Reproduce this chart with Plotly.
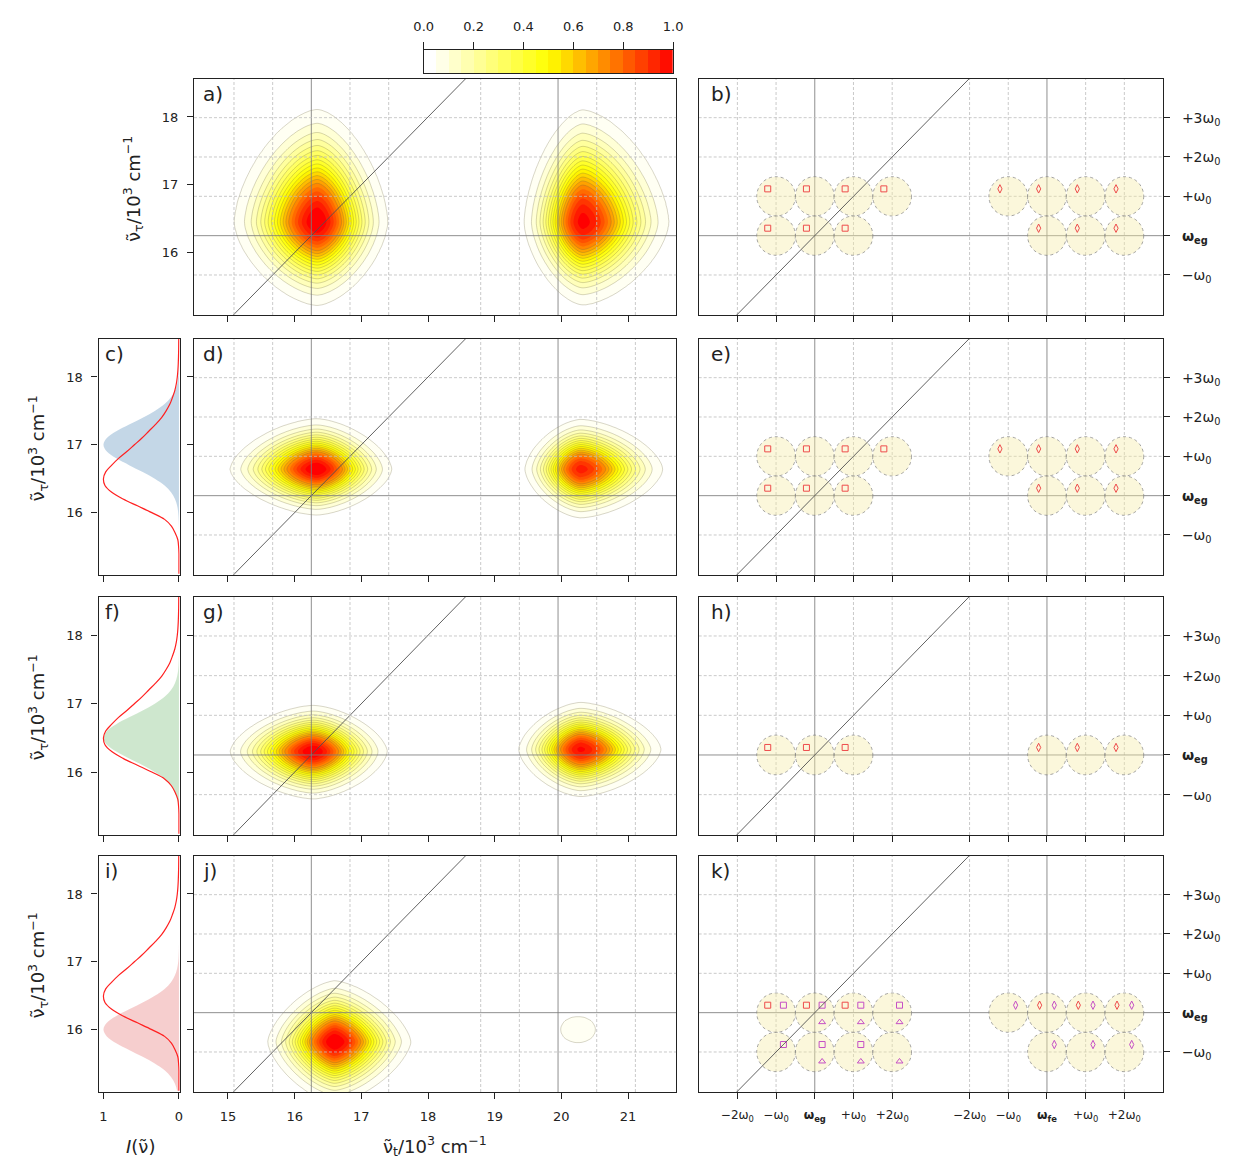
import numpy as np
import plotly.graph_objects as go

# ---------------- data (units: 10^3 cm^-1) ----------------
W_EG = 16.25          # omega_eg
W_FE = 19.95          # omega_fe in the 2D maps
W_FE_SCHEME = 19.73   # omega_fe position in the schematic panels
W0 = 0.58             # vibrational quantum omega_0

MAP_X_RANGE = [14.49, 21.72]
MAP_Y_RANGE = [15.08, 18.56]
SCHEME_X_RANGE = [14.51, 21.47]
MAP_X_TICKS = [15, 16, 17, 18, 19, 20, 21]
MAP_Y_TICKS = [16, 17, 18]

# 2D peaks: x0, y0, amplitude, wx_left, wx_right, wy_down, wy_up, contour-shape exponent
peaks_a = [[16.34, 16.45, 1.00, 0.72, 0.61, 0.71, 0.96, 1.6],
           [20.32, 16.45, 0.97, 0.51, 0.75, 0.71, 0.96, 1.6]]
peaks_d = [[16.33, 16.64, 1.00, 0.75, 0.65, 0.39, 0.43, 1.6],
           [20.29, 16.64, 0.92, 0.49, 0.72, 0.42, 0.43, 1.6]]
peaks_g = [[16.28, 16.30, 1.00, 0.72, 0.64, 0.40, 0.39, 1.6],
           [20.29, 16.33, 0.96, 0.54, 0.70, 0.40, 0.40, 1.6]]
peaks_j = [[16.60, 15.82, 1.00, 0.58, 0.66, 0.52, 0.52, 1.5],
           [20.25, 16.00, 0.08, 0.38, 0.38, 0.28, 0.28, 2.0]]

CONTOUR_START, CONTOUR_END, CONTOUR_STEP = 0.05, 0.95, 0.05
LINE_LEVEL_END = 0.70
CBAR_TICKS = [0.0, 0.2, 0.4, 0.6, 0.8, 1.0]
CBAR_LABELS = ["0.0", "0.2", "0.4", "0.6", "0.8", "1.0"]

# 1D spectra (vertical panels c, f, i)
spec_nu = [15.1, 15.2, 15.3, 15.4, 15.5, 15.6, 15.7, 15.8, 15.9, 16.0, 16.1, 16.2,
           16.3, 16.4, 16.5, 16.6, 16.7, 16.8, 16.9, 17.0, 17.1, 17.2, 17.3, 17.4,
           17.5, 17.6, 17.7, 17.8, 17.9, 18.0, 18.1, 18.2, 18.3, 18.4, 18.5, 18.6]
absorption = [0.0, 0.0, 0.0, 0.0, 0.005, 0.015, 0.05, 0.10, 0.19, 0.36, 0.55, 0.74,
              0.89, 0.98, 1.00, 0.97, 0.89, 0.80, 0.69, 0.59, 0.49, 0.40, 0.31, 0.23,
              0.17, 0.12, 0.085, 0.055, 0.035, 0.022, 0.014, 0.009, 0.006, 0.004, 0.003, 0.002]
laser_c = [0.0, 0.0, 0.0, 0.0, 0.0, 0.0, 0.0, 0.001, 0.004, 0.01, 0.024, 0.053,
           0.105, 0.19, 0.32, 0.48, 0.66, 0.83, 0.955, 1.0, 0.955, 0.83, 0.66, 0.48,
           0.32, 0.19, 0.105, 0.053, 0.024, 0.01, 0.004, 0.001, 0.0, 0.0, 0.0, 0.0]
laser_f = [0.0, 0.0, 0.001, 0.004, 0.01, 0.024, 0.053, 0.105, 0.19, 0.32, 0.48, 0.66,
           0.83, 0.955, 1.0, 0.955, 0.83, 0.66, 0.48, 0.32, 0.19, 0.105, 0.053, 0.024,
           0.01, 0.004, 0.001, 0.0, 0.0, 0.0, 0.0, 0.0, 0.0, 0.0, 0.0, 0.0]
laser_i = [0.024, 0.053, 0.105, 0.19, 0.32, 0.48, 0.66, 0.83, 0.955, 1.0, 0.955, 0.83,
           0.66, 0.48, 0.32, 0.19, 0.105, 0.053, 0.024, 0.01, 0.004, 0.001, 0.0, 0.0,
           0.0, 0.0, 0.0, 0.0, 0.0, 0.0, 0.0, 0.0, 0.0, 0.0, 0.0, 0.0]

# schematic panels: circles as (k_x, k_y) multiples of omega_0 around omega_eg / omega_fe
circles_b_left = [(-1, 1), (0, 1), (1, 1), (2, 1), (-1, 0), (0, 0), (1, 0)]
circles_b_right = [(-1, 1), (0, 1), (1, 1), (2, 1), (0, 0), (1, 0), (2, 0)]
circles_h_left = [(-1, 0), (0, 0), (1, 0)]
circles_h_right = [(0, 0), (1, 0), (2, 0)]
circles_k_left = [(-1, 0), (0, 0), (1, 0), (2, 0), (-1, -1), (0, -1), (1, -1), (2, -1)]
circles_k_right = [(-1, 0), (0, 0), (1, 0), (2, 0), (0, -1), (1, -1), (2, -1)]
k_ul_left = [(-1, 0), (0, 0), (1, 0)]
k_ur_left = [(-1, 0), (0, 0), (1, 0), (2, 0), (-1, -1), (0, -1), (1, -1)]
k_lr_left = [(0, 0), (1, 0), (2, 0), (0, -1), (1, -1), (2, -1)]
k_ul_right = [(0, 0), (1, 0), (2, 0)]
k_ur_right = [(-1, 0), (0, 0), (1, 0), (2, 0), (0, -1), (1, -1), (2, -1)]

SCHEME_X_OFFSETS = [-2, -1, 0, 1, 2]
SCHEME_X_LABELS = ["−2ω<sub>0</sub>", "−ω<sub>0</sub>", "<b>ω<sub>eg</sub></b>", "+ω<sub>0</sub>", "+2ω<sub>0</sub>",
                   "−2ω<sub>0</sub>", "−ω<sub>0</sub>", "<b>ω<sub>fe</sub></b>", "+ω<sub>0</sub>", "+2ω<sub>0</sub>"]
SCHEME_Y_OFFSETS = [-1, 0, 1, 2, 3]
SCHEME_Y_LABELS = ["−ω<sub>0</sub>", "<b>ω<sub>eg</sub></b>", "+ω<sub>0</sub>", "+2ω<sub>0</sub>", "+3ω<sub>0</sub>"]

# ---------------- styling / layout ----------------
W, H = 1237, 1161
ROWS = [(79, 315), (339, 575), (597, 835), (856, 1092)]
COL_SPEC = (90, 172.5)
COL_MAP = (187, 677)
COL_SCH = (700, 1172)
FONT = "DejaVu Sans"
INK = "#222222"
CSCALE = [[0.0, "#ffffff"], [0.03, "#ffffff"], [0.5, "#ffff00"], [1.0, "#ff0000"]]
RED_M = "#ee4b4b"
MAG_M = "#c54fc5"
GRID_SOLID = "rgba(125,125,125,0.85)"
GRID_DOT = "rgba(190,190,190,0.9)"


def xd(p):
    return [p[0] / W, p[1] / W]


def yd(r):
    return [1 - r[1] / H, 1 - r[0] / H]


def base_axis(domain, rng, anchor, tickvals, ticktext=None, labels=True):
    d = dict(domain=domain, range=rng, anchor=anchor, tickvals=tickvals,
             showticklabels=labels, ticks="outside", ticklen=6, tickwidth=1.4,
             tickcolor=INK, showline=True, mirror=True, linecolor=INK, linewidth=1.1,
             showgrid=False, zeroline=False, fixedrange=True,
             tickfont=dict(family=FONT, size=13, color=INK), ticklabelstandoff=6)
    if ticktext is not None:
        d["ticktext"] = ticktext
    return d


fig = go.Figure()
layout = dict(width=W, height=H, margin=dict(l=0, r=0, t=0, b=0), autosize=False,
              paper_bgcolor="white", plot_bgcolor="white", showlegend=False,
              font=dict(family=FONT, color=INK))
shapes = []
annotations = []

MAP_IDS = [1, 4, 7, 10]
SCH_IDS = [2, 5, 8, 11]
SPEC_IDS = [None, 3, 6, 9]
MAP_PEAKS = [peaks_a, peaks_d, peaks_g, peaks_j]
LABELS_MAP = ["a)", "d)", "g)", "j)"]
LABELS_SCH = ["b)", "e)", "h)", "k)"]
LABELS_SPEC = [None, "c)", "f)", "i)"]


def ax_name(i, a):
    return a + "axis" + ("" if i == 1 else str(i))


def ref(i, a):
    return a + ("" if i == 1 else str(i))


def surface(peaks):
    gx = np.arange(MAP_X_RANGE[0], MAP_X_RANGE[1] + 0.03, 0.03)
    gy = np.arange(MAP_Y_RANGE[0], MAP_Y_RANGE[1] + 0.03, 0.03)
    X, Y = np.meshgrid(gx, gy)
    Z = np.zeros_like(X)
    for x0, y0, amp, wxl, wxr, wyd, wyu, q in peaks:
        dx = X - x0
        dy = Y - y0
        u = np.abs(dx) / np.where(dx < 0, wxl, wxr)
        v = np.abs(dy) / np.where(dy < 0, wyd, wyu)
        rq = u ** q + v ** q
        Z += amp * np.exp(-rq ** (2.0 / q))
    return np.round(gx, 3), np.round(gy, 3), np.round(np.clip(Z, 0, 1), 3)


def grid_shapes(i, fe_pos, layer):
    out = []
    for centre in (W_EG, fe_pos):
        for k in SCHEME_X_OFFSETS:
            solid = (k == 0)
            out.append(dict(type="line", xref=ref(i, "x"), yref=ref(i, "y") + " domain",
                            x0=centre + k * W0, x1=centre + k * W0, y0=0, y1=1, layer=layer,
                            line=dict(color=GRID_SOLID if solid else GRID_DOT,
                                      width=1 if solid else 0.9, dash="solid" if solid else "3px,2px")))
    for k in SCHEME_Y_OFFSETS:
        solid = (k == 0)
        out.append(dict(type="line", xref=ref(i, "x") + " domain", yref=ref(i, "y"),
                        x0=0, x1=1, y0=W_EG + k * W0, y1=W_EG + k * W0, layer=layer,
                        line=dict(color=GRID_SOLID if solid else GRID_DOT,
                                  width=1 if solid else 0.9, dash="solid" if solid else "3px,2px")))
    return out


def panel_label(i, text, x):
    annotations.append(dict(text=text, xref=ref(i, "x") + " domain", yref=ref(i, "y") + " domain",
                            x=x, y=0.995, xanchor="left", yanchor="top", showarrow=False,
                            font=dict(family=FONT, size=20, color=INK)))


for r, (row, peaks) in enumerate(zip(ROWS, MAP_PEAKS)):
    last = (r == 3)
    # ---- 2D map ----
    i = MAP_IDS[r]
    layout[ax_name(i, "x")] = base_axis(xd(COL_MAP), MAP_X_RANGE, ref(i, "y"), MAP_X_TICKS, labels=last)
    layout[ax_name(i, "y")] = base_axis(yd(row), MAP_Y_RANGE, ref(i, "x"), MAP_Y_TICKS, labels=(r == 0))
    gx, gy, Z = surface(peaks)
    fig.add_trace(go.Contour(x=gx, y=gy, z=Z, colorscale=CSCALE, zmin=0, zmax=1, showscale=False,
                             contours=dict(start=CONTOUR_START, end=CONTOUR_END, size=CONTOUR_STEP,
                                           coloring="fill"),
                             line=dict(width=0),
                             xaxis=ref(i, "x"), yaxis=ref(i, "y"), hoverinfo="skip"))
    fig.add_trace(go.Contour(x=gx, y=gy, z=Z, showscale=False,
                             contours=dict(start=CONTOUR_START, end=LINE_LEVEL_END, size=CONTOUR_STEP,
                                           coloring="none"),
                             line=dict(color="rgba(110,100,60,0.45)", width=0.6),
                             xaxis=ref(i, "x"), yaxis=ref(i, "y"), hoverinfo="skip"))
    fig.add_trace(go.Scatter(x=MAP_X_RANGE, y=MAP_X_RANGE, mode="lines",
                             line=dict(color="#505050", width=0.9),
                             xaxis=ref(i, "x"), yaxis=ref(i, "y"), hoverinfo="skip"))
    shapes.extend(grid_shapes(i, W_FE, "above"))
    panel_label(i, LABELS_MAP[r], 0.014)

    # ---- schematic ----
    s = SCH_IDS[r]
    sch_ticks = [W_EG + k * W0 for k in SCHEME_X_OFFSETS] + [W_FE_SCHEME + k * W0 for k in SCHEME_X_OFFSETS]
    xa = base_axis(xd(COL_SCH), SCHEME_X_RANGE, ref(s, "y"), sch_ticks, SCHEME_X_LABELS, labels=last)
    xa["tickfont"] = dict(family=FONT, size=12, color=INK)
    layout[ax_name(s, "x")] = xa
    ya = base_axis(yd(row), MAP_Y_RANGE, ref(s, "x"), [W_EG + k * W0 for k in SCHEME_Y_OFFSETS],
                   SCHEME_Y_LABELS)
    ya["side"] = "right"
    ya["tickfont"] = dict(family=FONT, size=14, color=INK)
    ya["ticklabelstandoff"] = 9
    layout[ax_name(s, "y")] = ya
    shapes.extend(grid_shapes(s, W_FE_SCHEME, "below"))
    if r in (0, 1):
        groups = [(W_EG, circles_b_left), (W_FE_SCHEME, circles_b_right)]
    elif r == 2:
        groups = [(W_EG, circles_h_left), (W_FE_SCHEME, circles_h_right)]
    else:
        groups = [(W_EG, circles_k_left), (W_FE_SCHEME, circles_k_right)]
    for centre, circ in groups:
        for kx, ky in circ:
            cx, cy = centre + kx * W0, W_EG + ky * W0
            shapes.append(dict(type="circle", xref=ref(s, "x"), yref=ref(s, "y"),
                               x0=cx - W0 / 2, x1=cx + W0 / 2, y0=cy - W0 / 2, y1=cy + W0 / 2,
                               layer="below", fillcolor="rgba(245,234,165,0.40)",
                               line=dict(color="rgba(130,130,130,0.9)", width=0.8, dash="dot")))

    def add_marks(centre, pairs, sx, sy, symbol, color, size=6):
        fig.add_trace(go.Scatter(
            x=[centre + kx * W0 + sx for kx, ky in pairs],
            y=[W_EG + ky * W0 + sy for kx, ky in pairs],
            mode="markers", marker=dict(symbol=symbol, size=size, color=color, line=dict(width=1.0, color=color)),
            xaxis=ref(s, "x"), yaxis=ref(s, "y"), hoverinfo="skip"))

    if r < 3:
        (c1, l1), (c2, l2) = groups
        add_marks(c1, l1, -0.125, 0.11, "square-open", RED_M)
        add_marks(c2, l2, -0.125, 0.11, "diamond-tall-open", RED_M)
    else:
        add_marks(W_EG, k_ul_left, -0.125, 0.11, "square-open", RED_M)
        add_marks(W_EG, k_ur_left, 0.11, 0.11, "square-open", MAG_M)
        add_marks(W_EG, k_lr_left, 0.11, -0.14, "triangle-up-open", MAG_M, 6)
        add_marks(W_FE_SCHEME, k_ul_right, -0.11, 0.11, "diamond-tall-open", RED_M)
        add_marks(W_FE_SCHEME, k_ur_right, 0.11, 0.11, "diamond-tall-open", MAG_M)
    fig.add_trace(go.Scatter(x=SCHEME_X_RANGE, y=SCHEME_X_RANGE, mode="lines",
                             line=dict(color="#505050", width=0.9),
                             xaxis=ref(s, "x"), yaxis=ref(s, "y"), hoverinfo="skip"))
    panel_label(s, LABELS_SCH[r], 0.022)

    # ---- 1D spectra ----
    if SPEC_IDS[r] is not None:
        p = SPEC_IDS[r]
        layout[ax_name(p, "x")] = base_axis(xd(COL_SPEC), [1.065, -0.01], ref(p, "y"), [1, 0], ["1", "0"],
                                            labels=last)
        layout[ax_name(p, "y")] = base_axis(yd(row), MAP_Y_RANGE, ref(p, "x"), MAP_Y_TICKS)
        laser, fillc = {1: (laser_c, "rgba(70,130,180,0.32)"),
                        2: (laser_f, "rgba(60,160,60,0.25)"),
                        3: (laser_i, "rgba(220,60,60,0.25)")}[r]
        fig.add_trace(go.Scatter(x=laser, y=spec_nu, mode="lines", fill="tozerox", fillcolor=fillc,
                                 line=dict(width=0, shape="spline"),
                                 xaxis=ref(p, "x"), yaxis=ref(p, "y"), hoverinfo="skip"))
        fig.add_trace(go.Scatter(x=absorption, y=spec_nu, mode="lines",
                                 line=dict(color="#ff2020", width=1.2, shape="spline"),
                                 xaxis=ref(p, "x"), yaxis=ref(p, "y"), hoverinfo="skip"))
        panel_label(p, LABELS_SPEC[r], 0.06)

# ---- colour bar (own axes) ----
levels = np.arange(0.0, 1.0 + 1e-9, CONTOUR_STEP)
mids = list(np.round((levels[:-1] + levels[1:]) / 2, 4))
cb = 12
fig.add_trace(go.Heatmap(x=mids, y=[0], z=[mids], colorscale=CSCALE, zmin=0, zmax=1, showscale=False,
                         xaxis=ref(cb, "x"), yaxis=ref(cb, "y"), hoverinfo="skip"))
cbx = base_axis(xd((420.5, 674)), [0, 1], ref(cb, "y"), CBAR_TICKS, CBAR_LABELS)
cbx["side"] = "top"
cbx["ticklen"] = 7
layout[ax_name(cb, "x")] = cbx
cby = base_axis(yd((50, 73)), [-0.5, 0.5], ref(cb, "x"), [], labels=False)
cby["ticks"] = ""
layout[ax_name(cb, "y")] = cby

# ---- axis titles ----
ytitle = "ν\u0303<sub>τ</sub>/10<sup>3</sup> cm<sup>−1</sup>"
for r, row in enumerate(ROWS):
    xpos = 125 if r == 0 else 28
    annotations.append(dict(text=ytitle, xref="paper", yref="paper", x=xpos / W,
                            y=1 - ((row[0] + row[1]) / 2 - 8) / H, textangle=-90, showarrow=False,
                            xanchor="center", yanchor="middle", font=dict(family=FONT, size=18, color=INK)))
annotations.append(dict(text="ν\u0303<sub>t</sub>/10<sup>3</sup> cm<sup>−1</sup>", xref="paper", yref="paper",
                        x=432 / W, y=1 - 1146 / H, showarrow=False, xanchor="center", yanchor="middle",
                        font=dict(family=FONT, size=18, color=INK)))
annotations.append(dict(text="<i>I</i>(ν\u0303)", xref="paper", yref="paper",
                        x=133 / W, y=1 - 1146 / H, showarrow=False, xanchor="center", yanchor="middle",
                        font=dict(family=FONT, size=18, color=INK)))

layout["shapes"] = shapes
layout["annotations"] = annotations
fig.update_layout(**layout)
fig.write_html("out.html")
